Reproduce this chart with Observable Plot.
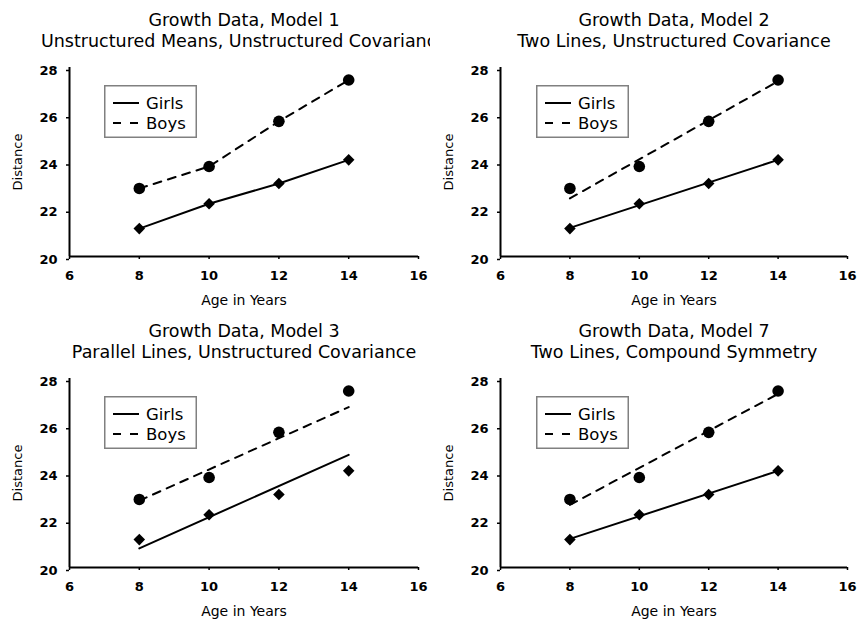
<!DOCTYPE html>
<html><head><meta charset="utf-8">
<script src="https://cdn.jsdelivr.net/npm/d3@7"></script>
<script src="https://cdn.jsdelivr.net/npm/@observablehq/plot@0.6"></script>
<style>
body{margin:0;background:#fff;font-family:"DejaVu Sans",sans-serif;}
#grid{position:relative;width:857px;height:622px;background:#fff;}
.cell{position:absolute;overflow:hidden;}
.legend{position:absolute;top:85px;}
</style></head><body><div id="grid"></div>
<script>
const ages = [8, 10, 12, 14];
const girlsMeans = [21.18, 22.23, 23.09, 24.09];
const boysMeans = [22.88, 23.81, 25.72, 27.47];
const titles = ["Growth Data, Model 1", "Growth Data, Model 2", "Growth Data, Model 3", "Growth Data, Model 7"];
const subtitles = ["Unstructured Means, Unstructured Covariance", "Two Lines, Unstructured Covariance", "Parallel Lines, Unstructured Covariance", "Two Lines, Compound Symmetry"];
const fitAges = [[8, 10, 12, 14], [8, 14], [8, 14], [8, 14]];
const girlsFit = [[21.18, 22.23, 23.09, 24.09], [21.21, 24.09], [20.81, 24.77], [21.21, 24.09]];
const boysFit = [[22.88, 23.81, 25.72, 27.47], [22.46, 27.42], [22.83, 26.79], [22.65, 27.35]];
const xTicks = [6, 8, 10, 12, 14, 16];
const yTicks = [20, 22, 24, 26, 28];
const legendLabels = ["Girls", "Boys"];
const xLabel = "Age in Years";
const yLabel = "Distance";

const grid = document.getElementById("grid");
const cellW = [430, 427];
const cellX = [0, 430];
const mLeft = [69, 70];
const axisEnd = [418, 417];
const cellH = 311;

for (let i = 0; i < 4; i++) {
  const col = i % 2, row = Math.floor(i / 2);
  const W = cellW[col];
  const obsG = ages.map((a, k) => ({age: a, v: girlsMeans[k]}));
  const obsB = ages.map((a, k) => ({age: a, v: boysMeans[k]}));
  const fitG = fitAges[i].map((a, k) => ({age: a, v: girlsFit[i][k]}));
  const fitB = fitAges[i].map((a, k) => ({age: a, v: boysFit[i][k]}));
  const chart = Plot.plot({
    width: W, height: cellH,
    marginLeft: mLeft[col], marginRight: W - axisEnd[col], marginTop: 67, marginBottom: 55,
    style: {fontFamily: "DejaVu Sans", background: "#fff", overflow: "hidden", color: "#000"},
    x: {domain: [xTicks[0], xTicks[xTicks.length - 1]]},
    y: {domain: [yTicks[0], yTicks[yTicks.length - 1]]},
    marks: [
      Plot.axisX({ticks: xTicks, tickSize: 3, tickPadding: 11, tickFormat: d => String(d), fontSize: 13, fontWeight: "bold", label: null, strokeWidth: 1.5}),
      Plot.axisY({ticks: yTicks, tickSize: 3, tickPadding: 9, tickFormat: d => String(d), fontSize: 13, fontWeight: "bold", label: null, dy: 3, strokeWidth: 1.5}),
      Plot.ruleX([xTicks[0]], {stroke: "#000", strokeWidth: 2}),
      Plot.ruleY([yTicks[0]], {stroke: "#000", strokeWidth: 2}),
      Plot.line(fitG, {x: "age", y: "v", stroke: "#000", strokeWidth: 2}),
      Plot.line(fitB, {x: "age", y: "v", stroke: "#000", strokeWidth: 2, strokeDasharray: "8,7"}),
      Plot.dot(obsG, {x: "age", y: "v", symbol: "diamond2", r: 5.2, fill: "#000", stroke: "none"}),
      Plot.dot(obsB, {x: "age", y: "v", symbol: "circle", r: 5.8, fill: "#000", stroke: "none"}),
      Plot.text([titles[i]], {text: d => d, frameAnchor: "top", dy: -47.5, fontSize: 17.5, lineAnchor: "middle", fill: "#000"}),
      Plot.text([subtitles[i]], {text: d => d, frameAnchor: "top", dy: -26, fontSize: 17.5, lineAnchor: "middle", fill: "#000"}),
      Plot.text([xLabel], {text: d => d, frameAnchor: "bottom", dy: 44, fontSize: 14, lineAnchor: "middle", fill: "#000"}),
      Plot.text([yLabel], {text: d => d, frameAnchor: "left", dx: -52, rotate: -90, fontSize: 13, lineAnchor: "middle", textAnchor: "middle", fill: "#000"})
    ]
  });
  const cell = document.createElement("div");
  cell.className = "cell";
  cell.style.left = cellX[col] + "px";
  cell.style.top = (row * cellH) + "px";
  cell.style.width = W + "px";
  cell.style.height = cellH + "px";
  cell.appendChild(chart);

  const ns = "http://www.w3.org/2000/svg";
  const lg = document.createElementNS(ns, "svg");
  lg.setAttribute("class", "legend");
  lg.style.left = (col === 0 ? 104 : 106) + "px";
  lg.setAttribute("width", 94);
  lg.setAttribute("height", 54);
  lg.innerHTML =
    `<rect x="0.75" y="0.75" width="91.5" height="51.5" fill="#fff" stroke="#808080" stroke-width="1.5"/>` +
    `<line x1="9" x2="35" y1="18" y2="18" stroke="#000" stroke-width="2"/>` +
    `<line x1="9" x2="35" y1="38" y2="38" stroke="#000" stroke-width="2" stroke-dasharray="8,9"/>` +
    `<text x="42" y="23.5" font-family="DejaVu Sans" font-size="16.5" fill="#000">${legendLabels[0]}</text>` +
    `<text x="42" y="43.5" font-family="DejaVu Sans" font-size="16.5" fill="#000">${legendLabels[1]}</text>`;
  cell.appendChild(lg);
  grid.appendChild(cell);
}
</script>
</body></html>
